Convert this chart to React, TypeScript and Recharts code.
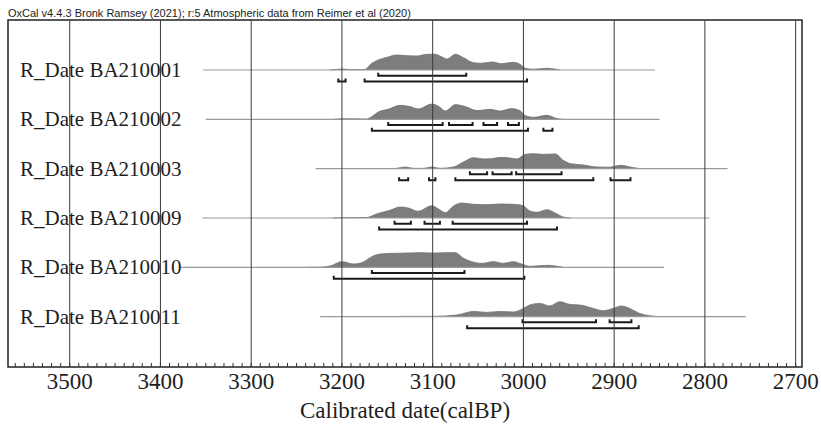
import React from "react";
import { ComposedChart, Area, Line, XAxis, YAxis, ReferenceLine, ReferenceArea } from "recharts";

// sample names, top to bottom
const SAMPLES = [
  "R_Date BA210001",
  "R_Date BA210002",
  "R_Date BA210003",
  "R_Date BA210009",
  "R_Date BA210010",
  "R_Date BA210011",
];

// calibrated probability, [calBP, relative height]
const BA210001_PDF = [
  [3213, 0], [3205, 0.6], [3200, 1], [3191, 0.3], [3175, 0.5], [3167, 6.7], [3160, 10], [3150, 12.7],
  [3140, 15], [3128, 14.3], [3117, 14], [3106, 15.7], [3097, 15.7], [3092, 14], [3084, 11], [3075, 15.7],
  [3066, 12.3], [3055, 7.3], [3046, 6.7], [3035, 8], [3024, 6.3], [3011, 7.7], [3003, 5.3], [2998, 1.7],
  [2989, 0.7], [2974, 1.7], [2960, 0],
];
const BA210002_PDF = [
  [3209, 0], [3200, 0.5], [3173, 0.3], [3167, 2.7], [3160, 7.3], [3149, 10], [3136, 14], [3125, 12.7],
  [3116, 10.3], [3101, 15.3], [3094, 13.3], [3086, 8.3], [3075, 14.7], [3064, 12.7], [3051, 8.7], [3037, 10],
  [3026, 8.3], [3013, 10.7], [3004, 8.7], [2998, 3.7], [2989, 2], [2974, 4], [2963, 0.7], [2956, 0],
];
const BA210003_PDF = [
  [3150, 0], [3140, 0.3], [3130, 1.7], [3121, 0.3], [3110, 0.3], [3101, 1.7], [3092, 0.3], [3077, 1.7],
  [3066, 6.7], [3055, 11], [3044, 9.7], [3035, 10], [3024, 11.3], [3015, 10.7], [3007, 9.7], [2998, 14.3],
  [2989, 15], [2978, 14.3], [2965, 14.7], [2956, 8.3], [2948, 5], [2934, 3.7], [2919, 1.7], [2905, 1.5],
  [2893, 3.3], [2880, 1.2], [2871, 0],
];
const BA210009_PDF = [
  [3210, 0], [3200, 0.3], [3173, 0.5], [3161, 4.3], [3147, 7.7], [3136, 11], [3127, 10], [3116, 6.7],
  [3101, 12.3], [3094, 9.3], [3086, 5.3], [3077, 12], [3068, 15], [3055, 13.7], [3040, 13.3], [3026, 14],
  [3011, 13.7], [3000, 12.3], [2993, 7], [2985, 5.7], [2974, 8.3], [2965, 5], [2956, 1], [2948, 0],
];
const BA210010_PDF = [
  [3240, 0], [3224, 0.2], [3213, 1.3], [3200, 5.7], [3187, 3.3], [3178, 4.7], [3167, 10.7], [3158, 13.3],
  [3143, 14], [3128, 14.3], [3114, 14.7], [3099, 14.3], [3084, 14.7], [3075, 14.7], [3066, 9], [3057, 5.7],
  [3046, 4], [3033, 5.7], [3022, 4], [3011, 5.7], [3002, 3.3], [2993, 1], [2974, 2], [2956, 0],
];
const BA210011_PDF = [
  [3140, 0], [3136, 0.3], [3099, 0.3], [3073, 1.7], [3055, 5.3], [3040, 4.3], [3026, 5.3], [3011, 4.7],
  [3002, 7.3], [2993, 11.7], [2982, 13.3], [2971, 10.7], [2960, 15], [2949, 12.3], [2938, 11.7], [2923, 8.3],
  [2912, 6], [2901, 8.3], [2892, 10.7], [2883, 8.3], [2872, 3.3], [2861, 1], [2850, 0],
];

// full calibrated span of each date (the thin gray line)
const SPANS = [
  [3353, 2855],
  [3350, 2850],
  [3229, 2775],
  [3354, 2795],
  [3378, 2845],
  [3224, 2755],
];

// 68.3% and 95.4% ranges
const RANGES_68 = [
  [[3160, 3063]],
  [[3149, 3089], [3082, 3056], [3044, 3029], [3017, 3005]],
  [[3059, 3040], [3034, 3013], [3008, 2958]],
  [[3142, 3124], [3109, 3092], [3078, 2996]],
  [[3167, 3065]],
  [[3001, 2920], [2905, 2881]],
];
const RANGES_95 = [
  [[3204, 3196], [3175, 2996]],
  [[3167, 2995], [2978, 2968]],
  [[3137, 3127], [3104, 3097], [3075, 2923], [2904, 2882]],
  [[3159, 2963]],
  [[3209, 2999]],
  [[3062, 2873]],
];

const PDFS = [BA210001_PDF, BA210002_PDF, BA210003_PDF, BA210009_PDF, BA210010_PDF, BA210011_PDF];

const YEAR_TICKS = [3500, 3400, 3300, 3200, 3100, 3000, 2900, 2800, 2700];
const MINOR_TICKS: number[] = [];
for (let yr = 3560; yr >= 2700; yr -= 10) MINOR_TICKS.push(yr);

const X_DOMAIN = [2693, 3568];
const Y_DOMAIN = [-1.02, 6.013];
const PX = 1 / 49.35; // one screen pixel in row units

const SERIF = "'Liberation Serif', 'DejaVu Serif', serif";

function rowBase(i: number) {
  return SAMPLES.length - 1 - i;
}

// one flat table, each record only carries the key of its own series
const rows: any[] = [];
const bracketKeys: string[] = [];

PDFS.forEach((pdf, i) => {
  const base = rowBase(i);
  rows.push({ yr: SPANS[i][0], [`s${i}`]: base });
  rows.push({ yr: SPANS[i][1], [`s${i}`]: base });
  pdf.forEach(([yr, p]) => rows.push({ yr, [`a${i}`]: base + p * PX }));

  const addBracket = (r: number[], drop: number, key: string) => {
    const y = base - drop * PX;
    const top = y + 3 * PX;
    rows.push({ yr: r[0], [key]: top });
    rows.push({ yr: r[0], [key]: y });
    rows.push({ yr: r[1], [key]: y });
    rows.push({ yr: r[1], [key]: top });
    bracketKeys.push(key);
  };
  RANGES_68[i].forEach((r, k) => addBracket(r, 5.7, `b68_${i}_${k}`));
  RANGES_95[i].forEach((r, k) => addBracket(r, 11.5, `b95_${i}_${k}`));
});

const RowLabel = (props: any) => {
  const { x, y, payload } = props;
  const idx = SAMPLES.length - 1 - payload.value;
  return (
    <text x={x} y={y + 7} textAnchor="start" fontFamily={SERIF} fontSize={21} fill="#1e1e1e">
      {SAMPLES[idx]}
    </text>
  );
};

const NoLabel = () => <g />;

export default function App() {
  return (
    <div style={{ position: "absolute", left: 0, top: 0, width: 821, height: 424, background: "#fff" }}>
      <div
        style={{
          position: "absolute",
          left: 8,
          top: 8,
          fontFamily: "'Liberation Sans', Arial, sans-serif",
          fontSize: 11,
          lineHeight: "11px",
          color: "#222",
          whiteSpace: "nowrap",
        }}
      >
        OxCal v4.4.3 Bronk Ramsey (2021); r:5 Atmospheric data from Reimer et al (2020)
      </div>
      <ComposedChart
        width={821}
        height={424}
        data={rows}
        margin={{ top: 20, right: 19, bottom: 0, left: 8 }}
      >
        <XAxis
          dataKey="yr"
          type="number"
          domain={X_DOMAIN}
          reversed
          allowDataOverflow
          ticks={YEAR_TICKS}
          height={57}
          axisLine={false}
          tickLine={false}
          tickSize={0}
          tickMargin={6}
          tick={{ fontFamily: SERIF, fontSize: 23, fill: "#1e1e1e" }}
          label={{
            value: "Calibrated date(calBP)",
            position: "insideBottom",
            offset: 6,
            style: { fontFamily: SERIF, fontSize: 23, fill: "#1e1e1e" },
          }}
        />
        <XAxis
          xAxisId="minor"
          dataKey="yr"
          type="number"
          domain={X_DOMAIN}
          reversed
          allowDataOverflow
          ticks={MINOR_TICKS}
          interval={0}
          mirror
          axisLine={false}
          tick={NoLabel}
          tickSize={4}
          tickLine={{ stroke: "#333", strokeWidth: 1 }}
        />
        <YAxis
          type="number"
          domain={Y_DOMAIN}
          allowDataOverflow
          mirror
          ticks={[0, 1, 2, 3, 4, 5]}
          axisLine={false}
          tickLine={false}
          tickSize={0}
          tickMargin={12}
          tick={RowLabel}
        />

        {SPANS.map((_, i) => (
          <Line
            key={`s${i}`}
            dataKey={`s${i}`}
            type="linear"
            stroke="#9a9a9a"
            strokeWidth={1.2}
            dot={false}
            activeDot={false}
            connectNulls
            isAnimationActive={false}
          />
        ))}
        {PDFS.map((_, i) => (
          <Area
            key={`a${i}`}
            dataKey={`a${i}`}
            type="monotone"
            baseValue={rowBase(i)}
            fill="#7d7d7d"
            fillOpacity={1}
            stroke="#707070"
            strokeWidth={0.8}
            dot={false}
            activeDot={false}
            connectNulls
            isAnimationActive={false}
          />
        ))}
        {bracketKeys.map((k) => (
          <Line
            key={k}
            dataKey={k}
            type="linear"
            stroke="#1a1a1a"
            strokeWidth={2}
            dot={false}
            activeDot={false}
            connectNulls
            isAnimationActive={false}
          />
        ))}

        {YEAR_TICKS.map((yr) => (
          <ReferenceLine key={yr} x={yr} stroke="#3a3a3a" strokeWidth={1} />
        ))}
        <ReferenceArea
          x1={X_DOMAIN[1]}
          x2={X_DOMAIN[0]}
          y1={Y_DOMAIN[0]}
          y2={Y_DOMAIN[1]}
          fill="none"
          stroke="#222"
          strokeWidth={1.5}
        />
      </ComposedChart>
    </div>
  );
}
